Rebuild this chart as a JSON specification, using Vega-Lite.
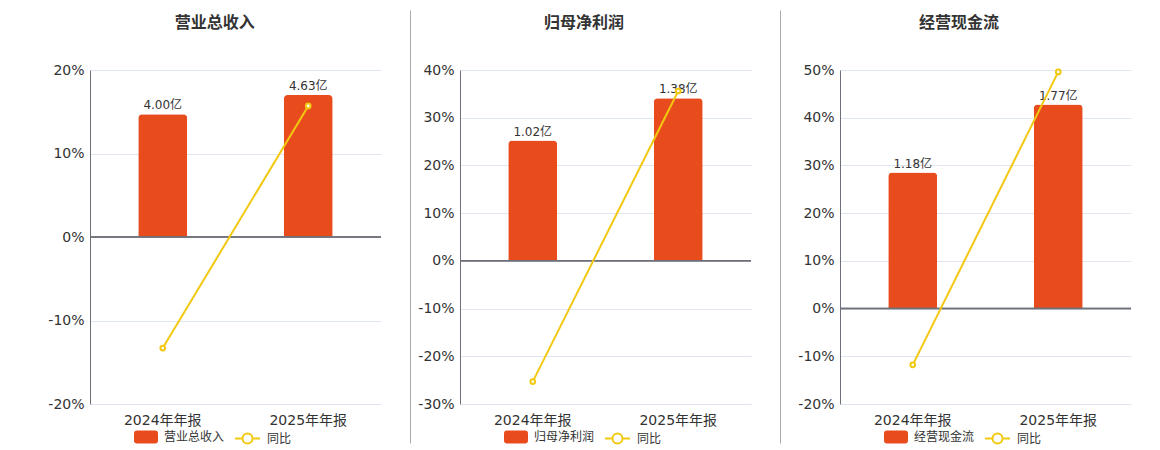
{
  "$schema": "https://vega.github.io/schema/vega-lite/v6.json",
  "background": "#ffffff",
  "padding": {"left": 47, "top": 7, "right": 5, "bottom": 0},
  "spacing": 6,
  "config": {
    "font": "DejaVu Sans, Noto Sans CJK SC",
    "view": {"stroke": null},
    "title": {"fontSize": 16, "fontWeight": "bold", "color": "#333333", "frame": "bounds", "offset": 32},
    "legend": {
      "orient": "none",
      "title": null,
      "padding": 0,
      "labelFontSize": 12,
      "labelColor": "#333333",
      "labelOffset": 6,
      "legendY": 355
    },
    "axisX": {
      "title": null,
      "labelAngle": 0,
      "domain": false,
      "ticks": false,
      "grid": false,
      "labelFontSize": 14,
      "labelColor": "#333333",
      "labelPadding": 9
    },
    "axisY": {
      "title": null,
      "ticks": false,
      "grid": true,
      "gridColor": "#E0E6F1",
      "domainColor": "#6E7079",
      "labelFontSize": 14,
      "labelColor": "#333333",
      "labelPadding": 6,
      "minExtent": 42
    }
  },
  "resolve": {
    "scale": {"fill": "independent", "stroke": "independent"},
    "legend": {"fill": "independent", "stroke": "independent"}
  },
  "hconcat": [
    {
      "width": 291,
      "height": 334,
      "title": "营业总收入",
      "data": {"values": [
        {"period": "2024年年报", "amount": 4.00, "label": "4.00亿", "yoy": -13.3},
        {"period": "2025年年报", "amount": 4.63, "label": "4.63亿", "yoy": 15.7}
      ]},
      "layer": [
        {
          "layer": [
            {
              "mark": {"type": "bar", "width": 49, "cornerRadiusTopLeft": 4, "cornerRadiusTopRight": 4},
              "encoding": {
                "x": {"field": "period", "type": "nominal", "sort": null, "scale": {"paddingInner": 0, "paddingOuter": 0}},
                "y": {"field": "amount", "type": "quantitative", "scale": {"domain": [-5.446, 5.446], "nice": false, "zero": false}, "axis": null},
                "fill": {"datum": "营业总收入", "scale": {"range": ["#E84C1D"]}, "legend": {"legendX": 44, "symbolType": "M-0.75,-0.54H0.75Q1,-0.54 1,-0.29V0.29Q1,0.54 0.75,0.54H-0.75Q-1,0.54 -1,0.29V-0.29Q-1,-0.54 -0.75,-0.54Z", "symbolSize": 576, "symbolStrokeWidth": 0}}
              }
            },
            {
              "mark": {"type": "text", "baseline": "bottom", "dy": -2, "fontSize": 12, "color": "#333333"},
              "encoding": {
                "x": {"field": "period", "type": "nominal", "sort": null},
                "y": {"field": "amount", "type": "quantitative"},
                "text": {"field": "label"}
              }
            }
          ]
        },
        {
          "layer": [
            {
              "mark": {"type": "rule", "color": "#6E7079", "strokeWidth": 1.5},
              "encoding": {"y": {"datum": 0}}
            },
            {
              "mark": {"type": "line", "strokeWidth": 2},
              "encoding": {
                "x": {"field": "period", "type": "nominal", "sort": null},
                "y": {"field": "yoy", "type": "quantitative", "scale": {"domain": [-20, 20], "nice": false}, "axis": {"orient": "left", "grid": true, "values": [-20, -10, 0, 10, 20], "labelExpr": "datum.value + '%'"}},
                "stroke": {"datum": "同比", "scale": {"range": ["#F2C811"]}, "legend": {"legendX": 144, "symbolType": "M-1,0H-0.4M0.4,0H1M-0.4,0A0.4,0.4 0 1,1 0.4,0A0.4,0.4 0 1,1 -0.4,0", "symbolSize": 625, "symbolStrokeWidth": 2, "symbolFillColor": "#ffffff"}}
              }
            },
            {
              "mark": {"type": "point", "filled": true, "fill": "#ffffff", "size": 22, "strokeWidth": 2, "opacity": 1},
              "encoding": {
                "x": {"field": "period", "type": "nominal", "sort": null},
                "y": {"field": "yoy", "type": "quantitative"},
                "stroke": {"datum": "同比"}
              }
            }
          ]
        }
      ],
      "resolve": {"scale": {"y": "independent"}}
    },
    {
      "width": 22,
      "height": 334,
      "data": {"values": [{"v": 0}, {"v": 1}]},
      "mark": {"type": "point", "opacity": 0},
      "encoding": {"y": {"field": "v", "type": "quantitative", "scale": {"range": [373, -60]}, "axis": {"orient": "right", "labels": false, "ticks": false, "grid": false, "domainColor": "#AAAAAA", "minExtent": 0}}}
    },
    {
      "width": 291,
      "height": 334,
      "title": "归母净利润",
      "data": {"values": [
        {"period": "2024年年报", "amount": 1.02, "label": "1.02亿", "yoy": -25.3},
        {"period": "2025年年报", "amount": 1.38, "label": "1.38亿", "yoy": 35.6}
      ]},
      "layer": [
        {
          "layer": [
            {
              "mark": {"type": "bar", "width": 49, "cornerRadiusTopLeft": 4, "cornerRadiusTopRight": 4},
              "encoding": {
                "x": {"field": "period", "type": "nominal", "sort": null, "scale": {"paddingInner": 0, "paddingOuter": 0}},
                "y": {"field": "amount", "type": "quantitative", "scale": {"domain": [-1.214, 1.619], "nice": false, "zero": false}, "axis": null},
                "fill": {"datum": "归母净利润", "scale": {"range": ["#E84C1D"]}, "legend": {"legendX": 44, "symbolType": "M-0.75,-0.54H0.75Q1,-0.54 1,-0.29V0.29Q1,0.54 0.75,0.54H-0.75Q-1,0.54 -1,0.29V-0.29Q-1,-0.54 -0.75,-0.54Z", "symbolSize": 576, "symbolStrokeWidth": 0}}
              }
            },
            {
              "mark": {"type": "text", "baseline": "bottom", "dy": -2, "fontSize": 12, "color": "#333333"},
              "encoding": {
                "x": {"field": "period", "type": "nominal", "sort": null},
                "y": {"field": "amount", "type": "quantitative"},
                "text": {"field": "label"}
              }
            }
          ]
        },
        {
          "layer": [
            {
              "mark": {"type": "rule", "color": "#6E7079", "strokeWidth": 1.5},
              "encoding": {"y": {"datum": 0}}
            },
            {
              "mark": {"type": "line", "strokeWidth": 2},
              "encoding": {
                "x": {"field": "period", "type": "nominal", "sort": null},
                "y": {"field": "yoy", "type": "quantitative", "scale": {"domain": [-30, 40], "nice": false}, "axis": {"orient": "left", "grid": true, "values": [-30, -20, -10, 0, 10, 20, 30, 40], "labelExpr": "datum.value + '%'", "minExtent": 44}},
                "stroke": {"datum": "同比", "scale": {"range": ["#F2C811"]}, "legend": {"legendX": 144, "symbolType": "M-1,0H-0.4M0.4,0H1M-0.4,0A0.4,0.4 0 1,1 0.4,0A0.4,0.4 0 1,1 -0.4,0", "symbolSize": 625, "symbolStrokeWidth": 2, "symbolFillColor": "#ffffff"}}
              }
            },
            {
              "mark": {"type": "point", "filled": true, "fill": "#ffffff", "size": 22, "strokeWidth": 2, "opacity": 1},
              "encoding": {
                "x": {"field": "period", "type": "nominal", "sort": null},
                "y": {"field": "yoy", "type": "quantitative"},
                "stroke": {"datum": "同比"}
              }
            }
          ]
        }
      ],
      "resolve": {"scale": {"y": "independent"}}
    },
    {
      "width": 22,
      "height": 334,
      "data": {"values": [{"v": 0}, {"v": 1}]},
      "mark": {"type": "point", "opacity": 0},
      "encoding": {"y": {"field": "v", "type": "quantitative", "scale": {"range": [373, -60]}, "axis": {"orient": "right", "labels": false, "ticks": false, "grid": false, "domainColor": "#AAAAAA", "minExtent": 0}}}
    },
    {
      "width": 291,
      "height": 334,
      "title": "经营现金流",
      "data": {"values": [
        {"period": "2024年年报", "amount": 1.18, "label": "1.18亿", "yoy": -11.8},
        {"period": "2025年年报", "amount": 1.77, "label": "1.77亿", "yoy": 49.6}
      ]},
      "layer": [
        {
          "layer": [
            {
              "mark": {"type": "bar", "width": 49, "cornerRadiusTopLeft": 4, "cornerRadiusTopRight": 4},
              "encoding": {
                "x": {"field": "period", "type": "nominal", "sort": null, "scale": {"paddingInner": 0, "paddingOuter": 0}},
                "y": {"field": "amount", "type": "quantitative", "scale": {"domain": [-0.828, 2.070], "nice": false, "zero": false}, "axis": null},
                "fill": {"datum": "经营现金流", "scale": {"range": ["#E84C1D"]}, "legend": {"legendX": 44, "symbolType": "M-0.75,-0.54H0.75Q1,-0.54 1,-0.29V0.29Q1,0.54 0.75,0.54H-0.75Q-1,0.54 -1,0.29V-0.29Q-1,-0.54 -0.75,-0.54Z", "symbolSize": 576, "symbolStrokeWidth": 0}}
              }
            },
            {
              "mark": {"type": "text", "baseline": "bottom", "dy": -2, "fontSize": 12, "color": "#333333"},
              "encoding": {
                "x": {"field": "period", "type": "nominal", "sort": null},
                "y": {"field": "amount", "type": "quantitative"},
                "text": {"field": "label"}
              }
            }
          ]
        },
        {
          "layer": [
            {
              "mark": {"type": "rule", "color": "#6E7079", "strokeWidth": 1.5},
              "encoding": {"y": {"datum": 0}}
            },
            {
              "mark": {"type": "line", "strokeWidth": 2},
              "encoding": {
                "x": {"field": "period", "type": "nominal", "sort": null},
                "y": {"field": "yoy", "type": "quantitative", "scale": {"domain": [-20, 50], "nice": false}, "axis": {"orient": "left", "grid": true, "values": [-20, -10, 0, 10, 20, 30, 40, 50], "labelExpr": "datum.value + '%'", "minExtent": 54}},
                "stroke": {"datum": "同比", "scale": {"range": ["#F2C811"]}, "legend": {"legendX": 144, "symbolType": "M-1,0H-0.4M0.4,0H1M-0.4,0A0.4,0.4 0 1,1 0.4,0A0.4,0.4 0 1,1 -0.4,0", "symbolSize": 625, "symbolStrokeWidth": 2, "symbolFillColor": "#ffffff"}}
              }
            },
            {
              "mark": {"type": "point", "filled": true, "fill": "#ffffff", "size": 22, "strokeWidth": 2, "opacity": 1},
              "encoding": {
                "x": {"field": "period", "type": "nominal", "sort": null},
                "y": {"field": "yoy", "type": "quantitative"},
                "stroke": {"datum": "同比"}
              }
            }
          ]
        }
      ],
      "resolve": {"scale": {"y": "independent"}}
    }
  ]
}
